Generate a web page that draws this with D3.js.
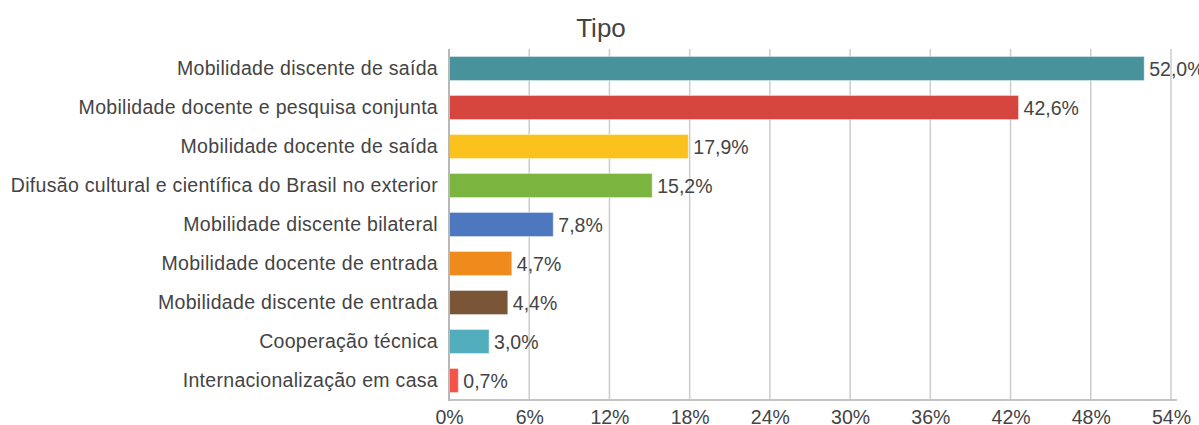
<!DOCTYPE html>
<html>
<head>
<meta charset="utf-8">
<script src="https://cdn.jsdelivr.net/npm/d3@7"></script>
<style>
  body { margin: 0; background: #fff; font-family: "Liberation Sans", Arial, sans-serif; overflow: hidden; }
  svg text { fill: #444; }
</style>
</head>
<body>
<script>
let categories = [
    "Mobilidade discente de saída",
    "Mobilidade docente e pesquisa conjunta",
    "Mobilidade docente de saída",
    "Difusão cultural e científica do Brasil no exterior",
    "Mobilidade discente bilateral",
    "Mobilidade docente de entrada",
    "Mobilidade discente de entrada",
    "Cooperação técnica",
    "Internacionalização em casa"
]
let values = [52.0, 42.6, 17.9, 15.2, 7.8, 4.7, 4.4, 3.0, 0.7]
let colors = ["#48939b", "#d6453e", "#fbc11c", "#7cb440", "#4d78bf", "#ef8a1d", "#7a5536", "#52aebd", "#f6524a"]
let ticks = [0, 6, 12, 18, 24, 30, 36, 42, 48, 54]
let title = "Tipo"

let w = 1199, h = 425
let padL = 449, padR = 1171, padT = 49, padB = 400
let fs = "19.5px"

let svg = d3.select("body").append("svg").attr("width", w).attr("height", h)

let xScale = d3.scaleLinear().domain([0, 54]).range([padL, padR])
let yScale = d3.scaleBand().domain(categories).range([padT, padB]).paddingInner(0.38).paddingOuter(0.19)

svg.append("text")
    .attr("x", 601).attr("y", 37)
    .attr("text-anchor", "middle")
    .style("font-size", "26px")
    .text(title)

// gridlines
svg.append("g").selectAll("line")
    .data(ticks.slice(1))
    .enter().append("line")
    .attr("x1", d=>xScale(d)).attr("x2", d=>xScale(d))
    .attr("y1", padT).attr("y2", padB)
    .attr("stroke", "#cccccc").attr("stroke-width", 1.5)

svg.selectAll("rect.bar")
    .data(values)
    .enter().append("rect")
    .attr("class", "bar")
    .attr("x", xScale(0))
    .attr("y", (d,i)=>yScale(categories[i]))
    .attr("width", d=>xScale(d)-xScale(0))
    .attr("height", yScale.bandwidth())
    .attr("fill", (d,i)=>colors[i])
    .attr("stroke", "rgba(255,255,255,0.5)")
    .attr("stroke-width", 1)

svg.selectAll("text.val")
    .data(values)
    .enter().append("text")
    .attr("class", "val")
    .attr("x", d=>xScale(d)+5)
    .attr("y", (d,i)=>yScale(categories[i])+yScale.bandwidth()/2)
    .attr("dy", "0.36em")
    .style("font-size", fs)
    .text(d=>d.toFixed(1).replace(".", ",")+"%")

// y axis line
svg.append("line")
    .attr("x1", padL).attr("x2", padL).attr("y1", padT).attr("y2", padB+1)
    .attr("stroke", "#b8b8b8").attr("stroke-width", 2)

// x axis
let xAxis = d3.axisBottom(xScale).tickValues(ticks).tickSize(0).tickPadding(10).tickFormat(d=>d+"%")
let gx = svg.append("g").attr("transform", `translate(0, ${padB})`).call(xAxis)
gx.select(".domain").attr("d", `M${padL},0H${padR+6}`).attr("stroke", "#c4c4c4").attr("stroke-width", 2)
gx.selectAll("text").style("font-size", fs).style("font-family", "Liberation Sans, Arial, sans-serif").attr("fill", "#444")

// category labels
let yAxis = d3.axisLeft(yScale).tickSize(0).tickPadding(11)
let gy = svg.append("g").attr("transform", `translate(${padL}, 0)`).call(yAxis)
gy.select(".domain").remove()
gy.selectAll("text").style("font-size", fs).style("letter-spacing", "0.3px").style("font-family", "Liberation Sans, Arial, sans-serif").attr("fill", "#444")
</script>
</body>
</html>
